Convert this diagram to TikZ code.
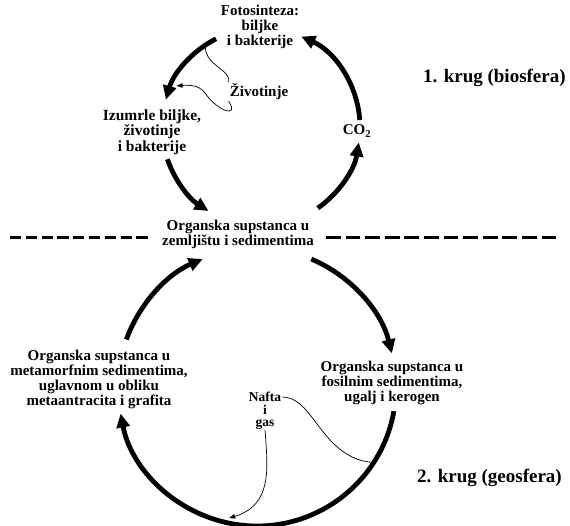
\documentclass[tikz,border=0pt]{standalone}
\usepackage{fontspec}
\setmainfont{Liberation Serif}
\usetikzlibrary{arrows.meta,calc}
\tikzset{
  lbl/.style={font=\bfseries\fontsize{15}{15}\selectfont, align=center, inner sep=1pt},
  biglbl/.style={font=\bfseries\fontsize{19}{19}\selectfont, inner sep=0pt},
  thickarc/.style={line width=4.8pt, -{Triangle[length=14pt,width=13pt]}},
  thin/.style={line width=0.7pt},
  thinarrow/.style={line width=0.7pt, -{Triangle[length=6pt,width=4.5pt]}},
  sep/.style={line width=3pt}
}
\begin{document}
\begin{tikzpicture}[x=1pt,y=1pt,yscale=-1]
\useasboundingbox[fill=white] (0,0) rectangle (570,525);
% centres
\coordinate (C1) at (261,127);
\coordinate (C2) at (257,387);
% labels
\node[lbl] (foto) at (260,27) {Fotosinteza:\\biljke\\i bakterije};
\node[lbl] (ziv) at (259,92) {Životinje};
\node[lbl, font=\bfseries\fontsize{15.5}{15.5}\selectfont] (izum) at (152,132) {Izumrle biljke,\\životinje\\i bakterije};
\node[lbl] (co2) at (357,131) {CO$_\mathbf{2}$};
\node[biglbl, anchor=west] (k1) at (423,78) {1. krug (biosfera)};
\node[lbl] (org) at (238,234) {Organska supstanca u\\zemljištu i sedimentima};
\node[lbl] (meta) at (99,379) {Organska supstanca u\\metamorfnim sedimentima,\\uglavnom u obliku\\metaantracita i grafita};
\node[lbl] (fos) at (392,383) {Organska supstanca u\\fosilnim sedimentima,\\ugalj i kerogen};
\node[lbl, font=\bfseries\fontsize{13.5}{12.5}\selectfont, inner sep=0pt] (nafta) at (265,411) {Nafta\\i\\gas};
\node[biglbl, anchor=west] (k2) at (417,478) {2. krug (geosfera)};
% dashed separators
\coordinate (dl1) at (10,237);
\coordinate (dl2) at (150,237);
\coordinate (dr1) at (326,237);
\coordinate (dr2) at (558,237);
\draw[sep, dash pattern=on 11.2pt off 4.6pt] (dl1) -- (dl2);
\draw[sep, dash pattern=on 14.8pt off 4.8pt] (dr1) -- (dr2);
% top circle arcs
\draw[thickarc] ($(C1)+(55:99)$) arc[start angle=55, end angle=9, radius=99];
\draw[thickarc] ($(C1)+(-4:99)$) arc[start angle=-4, end angle=-66, radius=99];
\draw[thickarc] ($(C1)+(243:99)$) arc[start angle=243, end angle=196, radius=99];
\draw[thickarc] ($(C1)+(161:99)$) arc[start angle=161, end angle=122, radius=99];
% bottom circle arcs
\draw[thickarc] ($(C2)+(200:139)$) arc[start angle=200, end angle=247, radius=139];
\draw[thickarc] ($(C2)+(-67:139)$) arc[start angle=-67, end angle=-14, radius=139];
\draw[thickarc] ($(C2)+(10:139)$) arc[start angle=10, end angle=169, radius=139];
% thin connectors
\coordinate (z1) at ($(C1)+(235:97)$);
\coordinate (z2) at ($(C1)+(206:94)$);
\coordinate (n1) at ($(C2)+(33:138)$);
\coordinate (n2) at ($(C2)+(102:134)$);
\draw[thin] (z1) .. controls (206,66) and (232,70) .. (ziv.north west);
\draw[thinarrow] (ziv.south west) .. controls (240,118) and (218,112) .. (205,93) .. controls (199,85) and (190,85) .. (z2);
\draw[thin] (nafta.north east) ++(1,5) .. controls (302,397) and (312,420) .. (330,440) .. controls (345,456) and (360,462) .. (n1);
\draw[thinarrow] (nafta.south) .. controls (268,470) and (272,505) .. (n2);
\end{tikzpicture}
\end{document}
